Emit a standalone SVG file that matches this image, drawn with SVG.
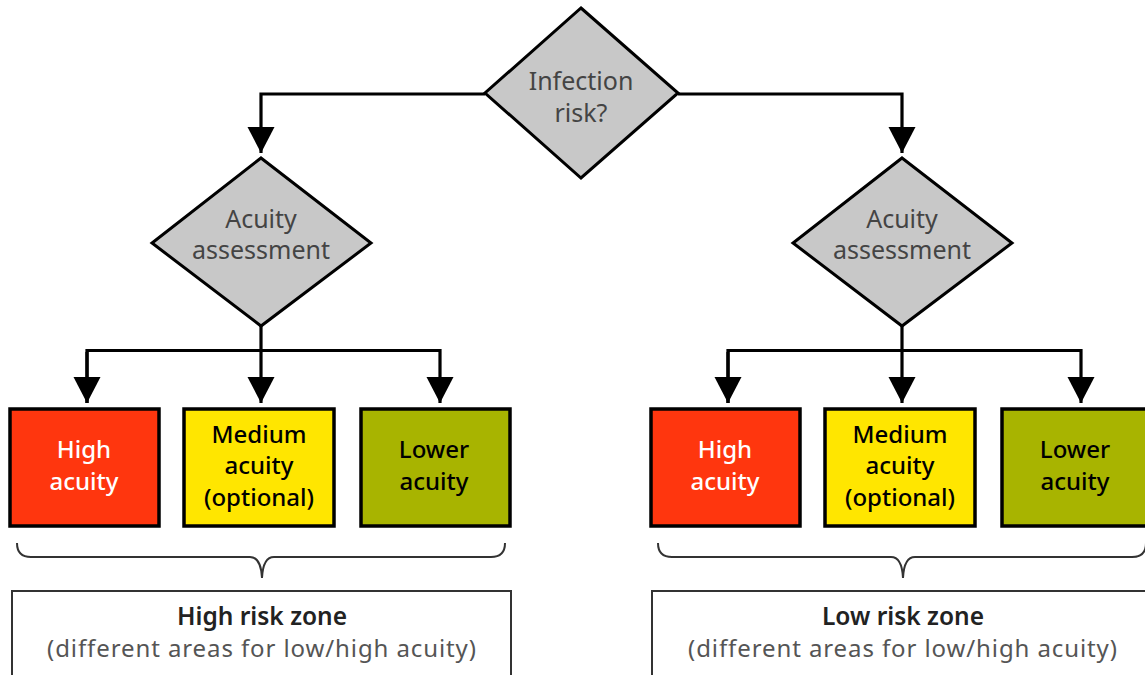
<svg xmlns="http://www.w3.org/2000/svg" width="1145" height="675" viewBox="0 0 1145 675">
<style>
  .dia { fill: #c8c8c8; stroke: #000; stroke-width: 3; stroke-linejoin: miter; }
  .dtxt { font-family: "Noto Sans", "Open Sans", sans-serif; font-size: 25px; fill: #444; text-anchor: middle; }
  .box { stroke: #000; stroke-width: 3.5; }
  .red { fill: #ff360e; }
  .yel { fill: #ffe600; }
  .oli { fill: #a8b400; }
  .btxt { font-family: "Noto Sans", "Open Sans", sans-serif; font-size: 24px; font-weight: 500; text-anchor: middle; }
  .conn { fill: none; stroke: #000; stroke-width: 3.2; }
  .brace { fill: none; stroke: #333; stroke-width: 2; }
  .zone { fill: #fff; stroke: #333; stroke-width: 2; }
  .ztitle { font-family: "Noto Sans", "Open Sans", sans-serif; font-size: 24.5px; font-weight: 600; fill: #222; text-anchor: middle; }
  .zsub { font-family: "Noto Sans", "Open Sans", sans-serif; font-size: 24px; letter-spacing: 0.9px; fill: #555; text-anchor: middle; }
</style>
<defs>
  <marker id="ah" markerUnits="userSpaceOnUse" markerWidth="28" markerHeight="28" viewBox="0 0 28 28" refX="27" refY="14" orient="auto">
    <path d="M1,0.5 L27,14 L1,27.5 Z" fill="#000"/>
  </marker>
</defs>

<g id="connectors">
  <path class="conn" d="M485,94 H261 V153" marker-end="url(#ah)"/>
  <path class="conn" d="M678,94 H902 V153" marker-end="url(#ah)"/>
  <path class="conn" d="M261,326 V403" marker-end="url(#ah)"/>
  <path class="conn" d="M87,403 V350.5 H440 V403" marker-end="url(#ah)"/>
  <path class="conn" d="M87,352 V403" marker-end="url(#ah)"/>
  <path class="conn" d="M902,326 V403" marker-end="url(#ah)"/>
  <path class="conn" d="M728,403 V350.5 H1081 V403" marker-end="url(#ah)"/>
  <path class="conn" d="M728,352 V403" marker-end="url(#ah)"/>
</g>

<g id="infection-risk">
  <polygon class="dia" points="581,8 678,93 581,178 485,93"/>
  <text class="dtxt" x="581" y="90">Infection</text>
  <text class="dtxt" x="581" y="122">risk?</text>
</g>

<g id="acuity-left">
  <polygon class="dia" points="261,158 371,243 261,326 152,243"/>
  <text class="dtxt" x="261" y="228">Acuity</text>
  <text class="dtxt" x="261" y="259">assessment</text>
</g>

<g id="acuity-right">
  <polygon class="dia" points="902,158 1012,243 902,326 793,243"/>
  <text class="dtxt" x="902" y="228">Acuity</text>
  <text class="dtxt" x="902" y="259">assessment</text>
</g>

<g id="high-left">
  <rect class="box red" x="10" y="409" width="149" height="117"/>
  <text class="btxt" x="84" y="458" fill="#fff">High</text>
  <text class="btxt" x="84" y="490" fill="#fff">acuity</text>
</g>
<g id="medium-left">
  <rect class="box yel" x="184" y="409" width="150" height="117"/>
  <text class="btxt" x="259" y="443" fill="#000">Medium</text>
  <text class="btxt" x="259" y="474" fill="#000">acuity</text>
  <text class="btxt" x="259" y="506" fill="#000">(optional)</text>
</g>
<g id="lower-left">
  <rect class="box oli" x="361" y="409" width="149" height="117"/>
  <text class="btxt" x="434" y="458" fill="#000">Lower</text>
  <text class="btxt" x="434" y="490" fill="#000">acuity</text>
</g>

<g id="high-right">
  <rect class="box red" x="651" y="409" width="149" height="117"/>
  <text class="btxt" x="725" y="458" fill="#fff">High</text>
  <text class="btxt" x="725" y="490" fill="#fff">acuity</text>
</g>
<g id="medium-right">
  <rect class="box yel" x="825" y="409" width="150" height="117"/>
  <text class="btxt" x="900" y="443" fill="#000">Medium</text>
  <text class="btxt" x="900" y="474" fill="#000">acuity</text>
  <text class="btxt" x="900" y="506" fill="#000">(optional)</text>
</g>
<g id="lower-right">
  <rect class="box oli" x="1002" y="409" width="149" height="117"/>
  <text class="btxt" x="1075" y="458" fill="#000">Lower</text>
  <text class="btxt" x="1075" y="490" fill="#000">acuity</text>
</g>

<g id="brace-left">
  <path class="brace" d="M17,543 Q17,557 31,557 H250 Q261,557 262,578 Q263,557 274,557 H491 Q505,557 505,543"/>
</g>
<g id="brace-right">
  <path class="brace" d="M658,543 Q658,557 672,557 H891 Q902,557 903,578 Q904,557 915,557 H1132 Q1146,557 1146,543"/>
</g>

<g id="high-risk-zone">
  <rect class="zone" x="12" y="591" width="499" height="100"/>
  <text class="ztitle" x="262" y="625">High risk zone</text>
  <text class="zsub" x="262" y="657">(different areas for low/high acuity)</text>
</g>
<g id="low-risk-zone">
  <rect class="zone" x="652" y="591" width="499" height="100"/>
  <text class="ztitle" x="903" y="625">Low risk zone</text>
  <text class="zsub" x="903" y="657">(different areas for low/high acuity)</text>
</g>
</svg>
